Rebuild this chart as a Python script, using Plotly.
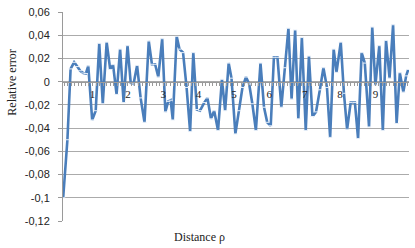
import plotly.graph_objects as go

distance = [0.17, 0.29, 0.38, 0.48, 0.57, 0.65, 0.74, 0.81, 0.88, 0.99,
            1.09, 1.19, 1.29, 1.40, 1.50, 1.58, 1.68, 1.78, 1.88, 1.99,
            2.08, 2.16, 2.26, 2.36, 2.47, 2.59, 2.68, 2.77, 2.86, 2.97,
            3.06, 3.14, 3.21, 3.27, 3.38, 3.46, 3.56, 3.66, 3.76, 3.85,
            3.95, 4.04, 4.16, 4.25, 4.35, 4.44, 4.55, 4.66, 4.75, 4.85,
            4.93, 5.04, 5.14, 5.24, 5.34, 5.43, 5.52, 5.62, 5.75, 5.85,
            5.94, 6.04, 6.13, 6.23, 6.34, 6.44, 6.54, 6.63, 6.73, 6.82,
            6.92, 7.03, 7.12, 7.22, 7.32, 7.43, 7.53, 7.63, 7.72, 7.82,
            7.90, 8.02, 8.11, 8.20, 8.30, 8.42, 8.51, 8.61, 8.70, 8.82,
            8.91, 9.00, 9.11, 9.21, 9.30, 9.40, 9.50, 9.60, 9.69, 9.79,
            9.87, 9.93]

rel_error = [-0.100, -0.050, 0.011, 0.0167, 0.013, 0.0094, 0.0075, 0.007, 0.0136, -0.033,
             -0.025, 0.033, -0.019, 0.034, 0.0105, 0.0147, -0.011, 0.028, -0.018, 0.031,
             -0.001, -0.002, 0.014, -0.014, -0.035, 0.035, 0.015, 0.015, 0.004, 0.037,
             -0.026, -0.017, -0.016, -0.033, 0.039, 0.028, 0.025, -0.005, -0.043, 0.025,
             -0.024, -0.025, -0.018, -0.014, -0.032, -0.025, -0.042, 0.002, -0.025, 0.016,
             0.003, -0.045, -0.025, -0.005, 0.004, -0.002, -0.019, -0.042, 0.016, -0.022,
             -0.035, -0.038, 0.021, 0.021, -0.022, 0.012, 0.046, -0.015, 0.0445, -0.032,
             0.038, -0.042, 0.022, -0.030, -0.026, -0.007, 0.012, -0.005, -0.048, 0.028,
             0.008, 0.034, -0.010, -0.041, -0.018, -0.018, -0.049, 0.025, 0.016, -0.039,
             0.047, -0.003, 0.031, -0.042, 0.0355, 0.003, 0.049, -0.036, 0.0077, -0.009,
             0.005, 0.0105]

y_tickvals = [0.06, 0.04, 0.02, 0, -0.02, -0.04, -0.06, -0.08, -0.1, -0.12]
y_ticktext = ["0,06", "0,04", "0,02", "0", "-0,02", "-0,04", "-0,06", "-0,08", "-0,1", "-0,12"]
x_tickvals = [1, 2, 3, 4, 5, 6, 7, 8, 9]
x_ticktext = ["1", "2", "3", "4", "5", "6", "7", "8", "9"]

y_min, y_max = -0.12, 0.06

W, H = 415, 248
ML, MR, MT, MB = 63, 6, 8, 27

fig = go.Figure()
fig.add_trace(go.Scatter(
    x=distance, y=rel_error, mode="lines+markers",
    line=dict(color="#4a7ebb", width=2.6),
    marker=dict(symbol="line-ew", size=3, color="#e6eef8",
                line=dict(color="#e6eef8", width=1)),
    showlegend=False, hoverinfo="skip",
))

plot_w = W - ML - MR
plot_h = H - MT - MB

def px_x(px):
    return (px - ML) / plot_w

def px_y(py):
    return (H - MB - py) / plot_h

fig.update_layout(
    width=W, height=H,
    margin=dict(l=ML, r=MR, t=MT, b=MB),
    paper_bgcolor="white", plot_bgcolor="white",
    font=dict(family="Liberation Sans, Arial, sans-serif", size=11, color="#222222"),
    xaxis=dict(
        range=[0.165, 9.95], anchor="free",
        position=(0 - y_min) / (y_max - y_min),
        tickvals=x_tickvals, ticktext=x_ticktext,
        showgrid=False, zeroline=False,
        showline=True, linecolor="#9a9a9a", linewidth=1,
        ticks="outside", ticklen=3, tickcolor="#9a9a9a",
        minor=dict(dtick=0.1, tick0=0, ticks="outside", ticklen=3, tickcolor="#9a9a9a"),
        tickfont=dict(family="Liberation Serif, Times New Roman, serif", size=11, color="#222222"),
        ticklabelstandoff=-1,
    ),
    yaxis=dict(
        range=[y_min, y_max], tickvals=y_tickvals, ticktext=y_ticktext,
        showgrid=True, gridcolor="#ababab", gridwidth=1,
        zeroline=False, showline=True, linecolor="#9a9a9a", linewidth=1,
        ticks="outside", ticklen=4, tickcolor="#9a9a9a",
        tickfont=dict(size=11, color="#222222"),
        ticklabelstandoff=6,
    ),
    annotations=[
        dict(text="Relative error", x=px_x(12), y=px_y(80), xref="paper", yref="paper",
             xanchor="center", yanchor="middle",
             showarrow=False, textangle=-90,
             font=dict(family="Liberation Serif, Times New Roman, serif", size=12, color="#222222")),
        dict(text="Distance ρ", x=px_x(199), y=px_y(237), xref="paper", yref="paper",
             xanchor="center", yanchor="middle",
             showarrow=False,
             font=dict(family="Liberation Serif, Times New Roman, serif", size=12, color="#222222")),
    ],
)

fig.write_html("out.html", config={"displayModeBar": False},
               post_script="document.body.style.margin='0';")
